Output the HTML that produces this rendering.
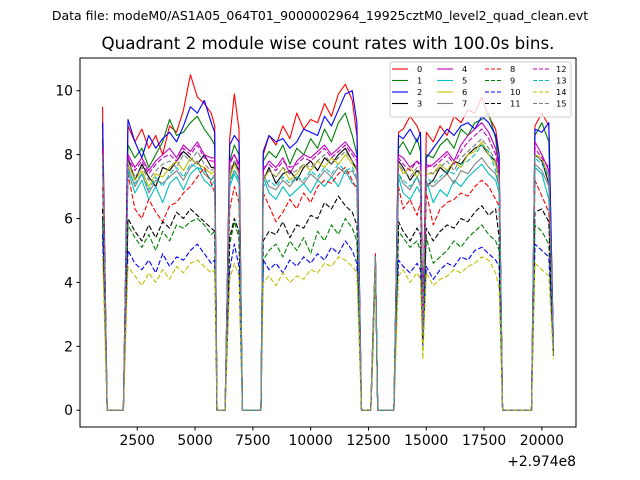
<!DOCTYPE html>
<html><head><meta charset="utf-8"><style>
html,body{margin:0;padding:0;background:#fff}
svg{display:block;font-family:"DejaVu Sans","Liberation Sans",sans-serif}
</style></head><body>
<svg id="chart" width="640" height="480" viewBox="0 0 640 480">
<rect x="0" y="0" width="640" height="480" fill="#fff"/>
<text x="320" y="20" font-size="12.5" text-anchor="middle">Data file: modeM0/AS1A05_064T01_9000002964_19925cztM0_level2_quad_clean.evt</text>
<text x="328" y="49" font-size="16.7" text-anchor="middle">Quadrant 2 module wise count rates with 100.0s bins.</text>
<g id="plot"></g>
<g id="axes"></g>
<g id="legend"></g>
</svg>
<script>
const times=[1000,1100,1200,1900,2100,2400,2700,3000,3300,3600,3900,4200,4500,4800,5100,5400,5700,5850,5950,6300,6500,6700,6900,7050,7850,7950,8200,8500,8800,9100,9400,9700,10000,10300,10600,10900,11200,11500,11800,12000,12200,12600,12700,12800,12900,13600,13800,14000,14300,14600,14750,14850,15000,15300,15600,15900,16200,16500,16800,17100,17400,17700,18000,18150,18300,19550,19700,20000,20300,20500];
const s0=[9.5,4.8,0,0,8.9,8.4,8.8,8.2,8.6,8.0,8.9,8.7,9.4,10.5,9.8,9.6,9.3,8.9,0,0,8.5,9.9,8.8,0,0,8.0,8.6,8.3,8.9,8.5,9.3,8.8,9.1,9.0,9.6,9.2,9.9,10.2,9.7,8.6,0,0,2.6,4.9,0,0,8.7,8.8,9.2,8.9,8.6,2.8,8.7,8.4,8.9,8.6,9.2,9.0,9.4,9.3,9.8,9.2,8.8,8.0,0,0,8.9,9.3,8.9,2.0];
const s1=[8.5,4.3,0,0,8.3,7.9,8.2,7.6,8.0,8.4,9.1,8.6,8.7,9.0,9.2,8.8,8.5,8.3,0,0,7.8,8.3,8.0,0,0,7.8,8.1,7.9,8.3,7.7,8.2,8.0,8.5,8.2,8.8,8.4,9.0,9.3,8.6,8.0,0,0,2.5,4.8,0,0,8.2,8.4,8.0,8.5,8.1,2.6,8.0,7.9,8.3,8.5,8.2,8.8,8.6,9.0,9.1,9.3,8.5,7.6,0,0,8.6,9.0,8.4,1.9];
const s2=[9.0,4.5,0,0,9.1,8.4,7.9,8.6,8.2,8.5,8.7,8.4,8.9,9.5,9.3,9.7,9.0,8.7,0,0,8.3,8.6,8.4,0,0,8.1,8.6,8.4,8.5,8.2,8.4,8.8,8.7,8.6,9.2,8.9,9.4,9.9,10.0,9.0,0,0,2.5,4.8,0,0,8.6,8.5,8.8,8.4,8.7,2.7,7.9,8.2,8.5,8.8,8.6,8.9,9.0,8.8,9.2,9.0,8.6,8.0,0,0,8.8,8.7,9.0,2.0];
const s3=[8.0,4.0,0,0,7.9,7.2,7.7,7.3,7.0,7.6,7.5,7.8,8.1,7.9,7.7,8.0,7.6,7.6,0,0,7.3,7.8,7.5,0,0,7.2,7.6,7.1,7.4,7.5,7.2,7.6,7.8,7.5,7.9,7.7,8.0,8.2,7.8,7.5,0,0,2.4,4.8,0,0,7.8,7.6,7.2,7.5,7.4,2.5,7.0,7.2,7.6,7.4,7.8,7.7,8.0,8.2,8.3,8.0,7.8,7.3,0,0,8.0,7.8,7.1,1.9];
const s4=[8.2,4.1,0,0,8.0,7.6,7.9,7.5,7.8,8.0,8.2,7.9,8.3,8.1,8.4,8.0,7.9,7.9,0,0,7.8,8.0,7.7,0,0,7.5,7.8,7.6,7.9,7.4,7.8,8.0,7.9,8.1,8.3,8.0,8.2,8.4,8.1,7.9,0,0,2.5,4.8,0,0,8.0,7.9,7.6,7.8,7.7,2.6,7.6,7.7,7.9,8.1,7.8,8.3,8.6,8.8,9.0,8.7,8.2,7.6,0,0,8.4,8.0,7.5,2.0];
const s5=[8.0,4.0,0,0,7.5,6.8,7.2,6.6,7.0,6.5,7.1,7.3,6.9,7.4,7.6,7.2,7.0,7.2,0,0,7.0,7.4,7.1,0,0,7.3,6.8,6.6,7.0,6.7,6.9,7.1,6.8,7.2,7.0,7.3,7.0,7.5,7.1,7.0,0,0,2.4,4.8,0,0,7.3,6.8,6.6,7.0,6.8,2.5,7.2,6.5,6.9,6.7,7.2,7.0,7.3,7.5,7.7,7.4,7.2,6.8,0,0,7.6,7.4,6.6,1.9];
const s6=[8.1,4.0,0,0,7.7,7.2,7.5,7.0,7.4,7.3,7.6,7.8,7.5,7.9,7.7,7.6,7.4,7.5,0,0,7.3,7.7,7.4,0,0,7.2,7.5,7.3,7.6,7.2,7.4,7.7,7.5,7.8,7.6,7.9,7.7,8.0,7.7,7.5,0,0,2.4,4.8,0,0,7.7,7.4,7.6,7.3,7.5,2.4,7.4,7.4,7.7,7.5,7.8,7.6,8.0,8.1,8.4,8.0,7.7,7.2,0,0,8.0,7.9,7.3,1.9];
const s7=[7.9,3.9,0,0,7.6,7.0,7.4,6.8,7.2,7.1,7.3,7.5,7.2,7.6,7.8,7.4,7.2,7.4,0,0,7.2,7.5,7.3,0,0,7.4,7.0,6.9,7.2,7.0,7.3,7.1,7.4,7.2,7.5,7.3,7.6,7.4,7.5,7.2,0,0,2.4,4.8,0,0,7.4,7.1,6.9,7.3,7.0,2.5,7.1,7.0,7.2,7.4,7.1,7.5,7.4,7.7,7.9,7.6,7.4,7.0,0,0,7.7,7.5,7.0,1.9];
const s8=[7.0,3.5,0,0,7.4,6.3,6.0,6.6,6.2,5.9,6.4,6.5,6.8,7.0,7.3,7.6,7.1,6.8,0,0,6.3,7.0,6.5,0,0,6.8,6.4,5.9,6.2,6.6,6.3,6.8,6.5,7.0,7.2,7.1,7.4,7.6,7.2,6.9,0,0,2.2,4.7,0,0,7.0,6.3,6.6,6.1,6.5,2.3,6.8,5.8,6.3,6.5,6.6,6.8,6.7,7.0,7.2,7.0,6.6,6.4,0,0,7.2,6.7,6.2,1.8];
const s9=[6.0,3.0,0,0,5.8,5.4,5.1,5.5,5.0,5.6,5.3,5.8,5.7,5.9,6.0,5.8,5.5,5.6,0,0,5.2,5.9,5.4,0,0,4.7,5.0,5.2,4.8,5.3,5.0,5.4,4.9,5.6,5.3,5.8,5.5,6.0,5.7,5.3,0,0,2.1,4.6,0,0,5.6,5.4,5.1,5.3,5.0,2.1,5.4,4.6,4.8,5.0,5.3,5.1,5.4,5.6,5.8,5.5,5.3,5.0,0,0,5.8,5.6,5.2,1.7];
const s10=[5.5,2.8,0,0,5.0,4.6,4.4,4.7,4.3,4.9,4.5,4.8,4.7,5.0,5.2,4.9,4.6,4.7,0,0,4.4,5.2,4.5,0,0,4.7,4.4,4.6,4.3,4.7,4.5,4.8,4.6,4.9,4.7,5.1,4.9,5.3,5.0,4.6,0,0,2.0,4.6,0,0,4.7,4.5,4.3,4.6,4.4,2.0,4.5,4.1,4.4,4.6,4.5,4.8,4.7,5.0,5.1,4.9,4.7,4.5,0,0,5.2,5.0,4.8,1.7];
const s11=[6.3,3.2,0,0,6.0,5.6,5.3,5.8,5.4,5.9,5.7,6.2,6.0,6.3,6.1,5.9,5.7,5.6,0,0,5.4,6.0,5.6,0,0,5.3,5.6,5.5,5.9,5.4,5.8,5.7,6.1,6.0,6.5,6.3,6.7,6.4,6.2,5.8,0,0,2.2,4.7,0,0,5.9,5.6,5.3,5.7,5.5,2.2,5.7,5.3,5.6,5.8,5.7,6.0,5.9,6.2,6.4,6.1,6.3,5.4,0,0,6.2,6.3,5.9,1.8];
const s12=[8.1,4.0,0,0,7.9,7.5,7.8,7.4,7.7,7.9,8.0,7.8,8.2,8.0,8.3,7.9,7.8,7.8,0,0,7.7,8.0,7.6,0,0,7.6,7.7,7.5,7.8,7.6,7.7,7.9,7.8,8.0,8.2,7.9,8.1,8.3,8.0,7.8,0,0,2.5,4.8,0,0,7.9,7.7,7.5,7.8,7.6,2.5,7.7,7.6,7.8,8.0,7.7,8.1,8.4,8.6,8.8,8.5,8.0,7.5,0,0,8.2,7.9,7.6,2.0];
const s13=[7.8,3.9,0,0,7.5,7.1,7.4,6.9,7.3,7.0,7.4,7.6,7.3,7.7,7.6,7.5,7.2,7.3,0,0,7.1,7.5,7.2,0,0,7.0,7.2,7.0,7.3,7.1,7.3,7.2,7.5,7.3,7.6,7.4,7.7,7.5,7.6,7.3,0,0,2.4,4.8,0,0,7.4,7.2,7.0,7.3,7.1,2.4,7.3,7.1,7.3,7.5,7.4,7.7,7.8,8.0,8.3,8.1,7.5,7.1,0,0,7.9,7.7,7.3,1.9];
const s14=[4.8,2.4,0,0,4.5,4.2,3.9,4.3,4.0,4.4,4.1,4.5,4.3,4.6,4.7,4.5,4.3,4.4,0,0,4.1,4.6,4.2,0,0,4.0,4.2,3.9,4.3,4.0,4.2,4.1,4.4,4.3,4.6,4.5,4.8,4.7,4.5,4.3,0,0,1.9,4.5,0,0,4.2,4.4,4.0,4.3,4.1,1.6,4.3,3.9,4.1,4.2,4.4,4.3,4.5,4.6,4.8,4.7,4.3,3.8,0,0,4.6,4.4,4.2,1.6];
const s15=[8.0,4.0,0,0,7.8,7.3,7.6,7.2,7.5,7.7,7.8,7.6,8.0,7.8,8.1,7.7,7.5,7.6,0,0,7.5,7.8,7.4,0,0,7.3,7.5,7.3,7.6,7.4,7.5,7.7,7.6,7.8,8.0,7.7,7.9,8.1,7.8,7.6,0,0,2.4,4.8,0,0,7.7,7.5,7.3,7.6,7.4,2.4,7.5,7.4,7.6,7.8,7.5,7.9,8.1,8.3,8.5,8.2,7.8,7.3,0,0,8.0,7.8,7.4,1.9];
const seriesValues=[s0,s1,s2,s3,s4,s5,s6,s7,s8,s9,s10,s11,s12,s13,s14,s15];
const seriesLabels=["0","1","2","3","4","5","6","7","8","9","10","11","12","13","14","15"];
const xTicks=[2500,5000,7500,10000,12500,15000,17500,20000];
const yTicks=[0,2,4,6,8,10];

const NS="http://www.w3.org/2000/svg";
const L=80,R=576,T=58,B=427;
const xMin=25,xMax=21475,yMin=-0.525,yMax=11.025;
function xs(v){return L+(v-xMin)/(xMax-xMin)*(R-L);}
function ys(v){return B-(v-yMin)/(yMax-yMin)*(B-T);}
const colors=["#ff0000","#008000","#0000ff","#000000","#bf00bf","#00bfbf","#bfbf00","#808080"];
function mk(tag,attrs,parent){const e=document.createElementNS(NS,tag);for(const k in attrs)e.setAttribute(k,attrs[k]);parent.appendChild(e);return e;}

const plot=document.getElementById('plot');
seriesValues.forEach((vals,i)=>{
  const d=vals.map((v,j)=>(j?'L':'M')+xs(times[j]).toFixed(2)+' '+ys(v).toFixed(2)).join(' ');
  const p=mk('path',{d:d,fill:'none',stroke:colors[i%8],'stroke-width':1.1,'stroke-linejoin':'round'},plot);
  if(i>=8)p.setAttribute('stroke-dasharray','5,2.2');
  
  
});

const axes=document.getElementById('axes');
const frame=mk('rect',{x:L,y:T,width:R-L,height:B-T,fill:'none',stroke:'#000','stroke-width':1},axes);


xTicks.forEach(v=>{
  const x=xs(v);
  const t=mk('line',{x1:x,x2:x,y1:B,y2:B+3.5,stroke:'#000','stroke-width':1},axes);
  
  
  const lb=mk('text',{x:x,y:B+18,'font-size':13.9,'text-anchor':'middle'},axes);
  lb.textContent=String(v);
  
  
});
yTicks.forEach(v=>{
  const y=ys(v);
  const t=mk('line',{x1:L-3.5,x2:L,y1:y,y2:y,stroke:'#000','stroke-width':1},axes);
  
  
  const lb=mk('text',{x:L-7,y:y+5,'font-size':13.9,'text-anchor':'end'},axes);
  lb.textContent=String(v);
  
  
});
const off=mk('text',{x:R,y:B+39,'font-size':13.9,'text-anchor':'end'},axes);
off.textContent='+2.974e8';



const lg=document.getElementById('legend');
const box=mk('rect',{x:390,y:62,width:181,height:55,fill:'#fff','fill-opacity':0.8,stroke:'#ccc','stroke-width':1,rx:2},lg);


const colX=[392,437,485,533];
seriesLabels.forEach((lab,i)=>{
  const c=Math.floor(i/4),r=i%4;
  const x=colX[c],y=69+r*11.5;
  const ln=mk('line',{x1:x,x2:x+16,y1:y,y2:y,stroke:colors[i%8],'stroke-width':1.1},lg);
  if(i>=8)ln.setAttribute('stroke-dasharray','4,2');
  
  
  const tx=mk('text',{x:c==3?x+23:x+25,y:y+3,'font-size':8.3},lg);
  tx.textContent=lab;
  
  
});
</script>
</body></html>
